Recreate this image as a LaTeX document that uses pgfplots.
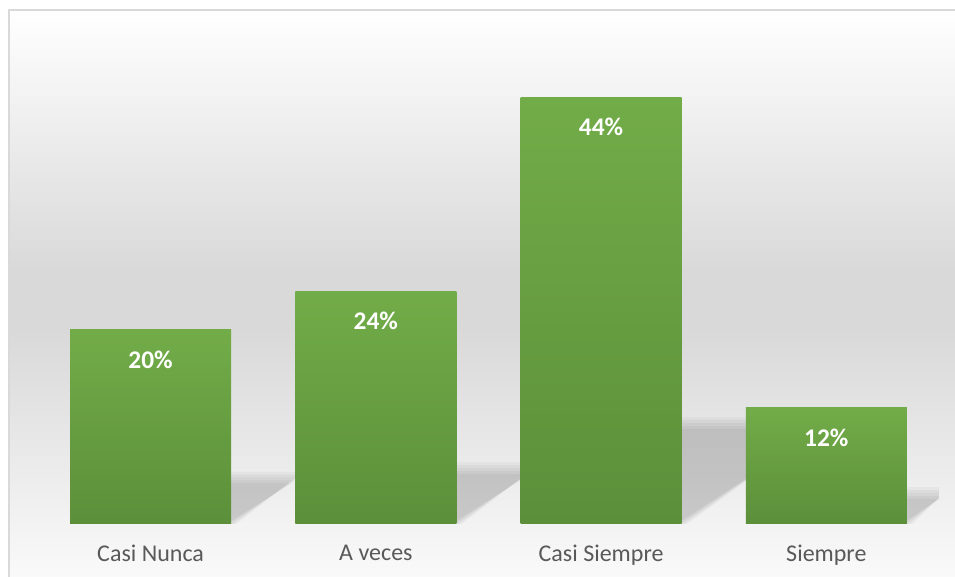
\documentclass[border=0pt]{standalone}
\usepackage{fontspec}
\setmainfont{Carlito}
\usepackage{pgfplots}
\pgfplotsset{compat=1.18}

\definecolor{bartop}{HTML}{72AC48}
\definecolor{barbot}{HTML}{5C8F3A}
\definecolor{labgray}{HTML}{595959}
\definecolor{bgdark}{HTML}{D9D9D9}
\definecolor{bgbot}{HTML}{FBFBFB}
\definecolor{framegray}{HTML}{D9D9D9}

\pgfplotsset{
  greenbar/.style={
    ybar, bar width=80.5pt, draw=none,
    top color=bartop, bottom color=barbot,
    nodes near coords={\pgfmathprintnumber{\pgfplotspointmeta}\%},
    every node near coord/.append style={
      font=\fontsize{12.7}{15}\selectfont\bfseries,
      text=white, anchor=center, yshift=-15pt},
  },
  % thin stacked layers give the shadow a soft edge
  barshadow/.style={draw=none, fill=black, fill opacity=0.036, forget plot},
}

\begin{document}
\begin{tikzpicture}
  % chart area: grey band in the middle, white at top and bottom
  \shade[top color=white, bottom color=bgdark] (4.5pt,153.5pt) rectangle (490pt,283.5pt);
  \fill[bgdark] (4.5pt,123.5pt) rectangle (490pt,153.5pt);
  \shade[top color=bgdark, bottom color=bgbot] (4.5pt,-5pt) rectangle (490pt,123.5pt);
  \draw[framegray, line width=1pt] (4.5pt,-5pt) rectangle (490pt,283.5pt);

  \begin{axis}[
      at={(19pt,26.5pt)}, anchor=south west,
      scale only axis, width=450.5pt, height=242.5pt,
      xmin=-0.5, xmax=3.5, ymin=0, ymax=50,
      enlargelimits=false,
      xtick={0,1,2,3},
      xticklabels={Casi Nunca, A veces, Casi Siempre, Siempre},
      xticklabel style={font=\fontsize{12}{14}\selectfont, text=labgray, yshift=-7pt},
      ytick=\empty,
      major tick length=0pt,
      axis line style={draw=none},
      no markers,
      /pgf/number format/assume math mode=true,
    ]
    % perspective shadows behind the bars
    \addplot[barshadow] coordinates {(-0.357,0) (0.333,0) (0.628,4.2) (-0.062,4.2)};
    \addplot[barshadow] coordinates {(-0.357,0) (0.345,0) (0.640,4.5) (-0.062,4.5)};
    \addplot[barshadow] coordinates {(-0.357,0) (0.357,0) (0.652,4.8) (-0.062,4.8)};
    \addplot[barshadow] coordinates {(-0.357,0) (0.369,0) (0.664,5.1) (-0.062,5.1)};
    \addplot[barshadow] coordinates {(-0.357,0) (0.381,0) (0.676,5.4) (-0.062,5.4)};

    \addplot[barshadow] coordinates {(0.643,0) (1.333,0) (1.687,5.16) (0.997,5.16)};
    \addplot[barshadow] coordinates {(0.643,0) (1.345,0) (1.699,5.46) (0.997,5.46)};
    \addplot[barshadow] coordinates {(0.643,0) (1.357,0) (1.711,5.76) (0.997,5.76)};
    \addplot[barshadow] coordinates {(0.643,0) (1.369,0) (1.723,6.06) (0.997,6.06)};
    \addplot[barshadow] coordinates {(0.643,0) (1.381,0) (1.735,6.36) (0.997,6.36)};

    \addplot[barshadow] coordinates {(1.643,0) (2.333,0) (2.983,9.8) (2.293,9.8)};
    \addplot[barshadow] coordinates {(1.643,0) (2.345,0) (2.995,10.1) (2.293,10.1)};
    \addplot[barshadow] coordinates {(1.643,0) (2.357,0) (3.007,10.4) (2.293,10.4)};
    \addplot[barshadow] coordinates {(1.643,0) (2.369,0) (3.019,10.7) (2.293,10.7)};
    \addplot[barshadow] coordinates {(1.643,0) (2.381,0) (3.031,11.0) (2.293,11.0)};

    \addplot[barshadow] coordinates {(2.643,0) (3.333,0) (3.503,2.6) (2.813,2.6)};
    \addplot[barshadow] coordinates {(2.643,0) (3.345,0) (3.515,2.9) (2.813,2.9)};
    \addplot[barshadow] coordinates {(2.643,0) (3.357,0) (3.527,3.2) (2.813,3.2)};
    \addplot[barshadow] coordinates {(2.643,0) (3.369,0) (3.539,3.5) (2.813,3.5)};
    \addplot[barshadow] coordinates {(2.643,0) (3.381,0) (3.551,3.8) (2.813,3.8)};

    % one plot per bar so each gets its own gradient
    \addplot[greenbar] coordinates {(0,20)};
    \addplot[greenbar] coordinates {(1,24)};
    \addplot[greenbar] coordinates {(2,44)};
    \addplot[greenbar] coordinates {(3,12)};
  \end{axis}
  \pgfresetboundingbox
  \path[use as bounding box] (0,0) rectangle (477.5pt,288.5pt);
\end{tikzpicture}
\end{document}
